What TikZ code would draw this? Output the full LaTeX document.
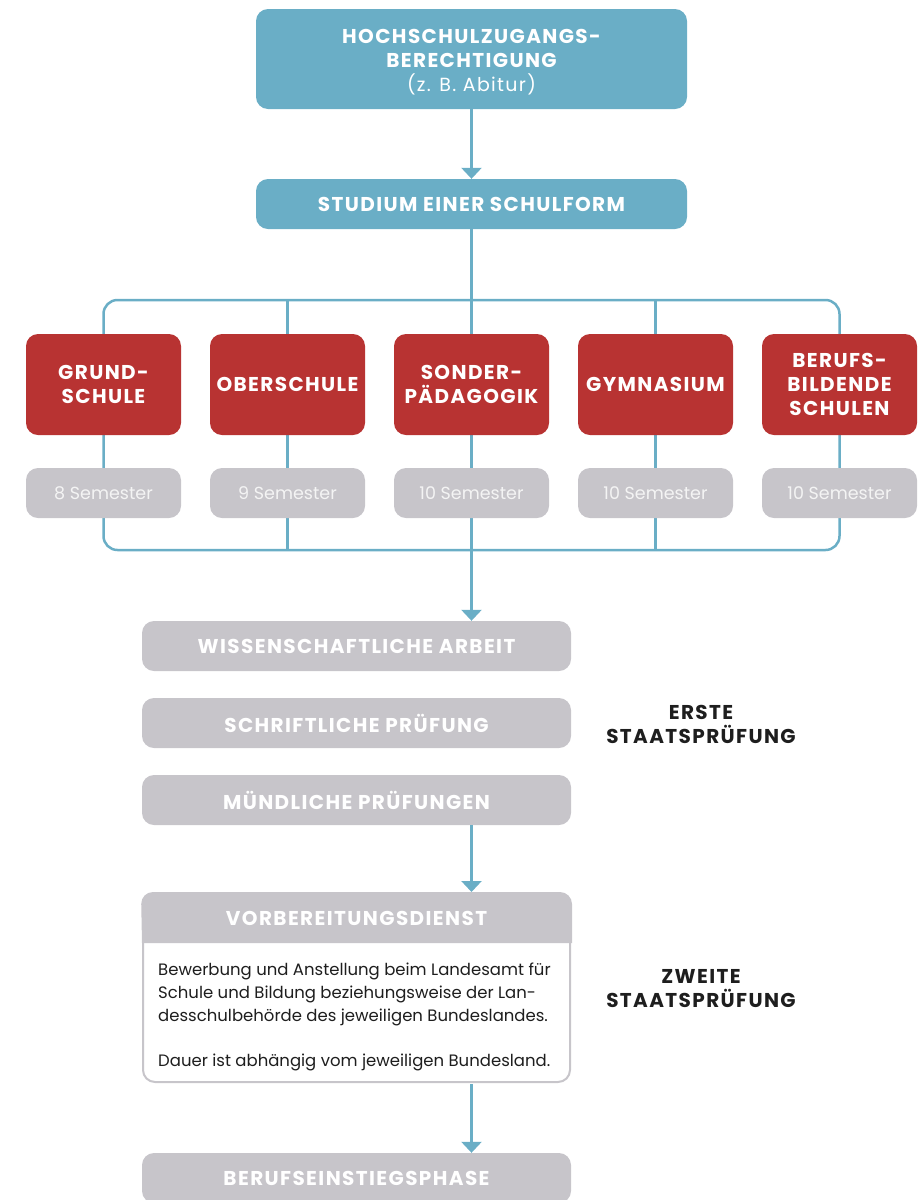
\documentclass[tikz,border=0pt]{standalone}
\usepackage{fontspec}
\setmainfont{Poppins}
\newfontfamily\headfont{Poppins}[LetterSpace=7]
\usetikzlibrary{arrows.meta,calc,backgrounds}
\definecolor{cblue}{HTML}{6AAEC6}
\definecolor{cred}{HTML}{B83332}
\definecolor{cgray}{HTML}{C7C5CA}
\definecolor{ctext}{HTML}{1E1E1E}
\definecolor{csem}{HTML}{F4F4F4}
\tikzset{
  box/.style={rounded corners=12pt, inner sep=0pt, align=center, text=white,
    font=\headfont\fontsize{20}{24}\selectfont\bfseries},
  bluebox/.style={box, fill=cblue, minimum width=431pt},
  redbox/.style={box, fill=cred, minimum width=155pt, minimum height=101pt},
  sembox/.style={box, fill=cgray, minimum width=155pt, minimum height=50pt,
    text=csem, font=\fontsize{17.5}{20}\selectfont},
  graybox/.style={box, fill=cgray, minimum width=429pt, minimum height=50pt},
  conn/.style={cblue, line width=2.5pt},
  arr/.style={conn, -{Triangle[width=20pt,length=11pt]}},
  side/.style={align=center, text=ctext, font=\headfont\fontsize{20}{24}\selectfont\bfseries},
}
\begin{document}
\begin{tikzpicture}[x=1pt,y=-1pt]
\useasboundingbox (0,0) rectangle (924,1200);
\clip (0,0) rectangle (924,1200);

% top boxes
\node[bluebox, minimum height=100pt] (top) at (471.5,59) {};
\node[box] (toptext) at (471.5,62.5)
  {HOCHSCHULZUGANGS-\\BERECHTIGUNG\\{\mdseries\fontsize{19}{24}\selectfont (z. B. Abitur)}};
\node[bluebox, minimum height=50pt] (stud) at (471.5,204) {STUDIUM EINER SCHULFORM};

% school types
\foreach \i/\t/\s in {1/{GRUND-\\SCHULE}/8, 2/{OBERSCHULE}/9, 3/{SONDER-\\PÄDAGOGIK}/10,
                      4/{GYMNASIUM}/10, 5/{BERUFS-\\BILDENDE\\SCHULEN}/10}{
  \node[redbox] (r\i) at ({103.5+184*(\i-1)},384.5) {\t};
  \node[sembox] (s\i) at ({103.5+184*(\i-1)},493) {\s\ Semester};
}

\coordinate (hubtop) at (471.5,300);
\coordinate (hubbot) at (471.5,550);

\begin{scope}[on background layer]
  \draw[conn, rounded corners=14pt] (r1 |- hubtop) rectangle (r5 |- hubbot);
  \foreach \i in {2,3,4}{
    \draw[conn] (r\i |- hubtop) -- (r\i |- hubbot);
  }
  \draw[conn] (stud.south) -- (hubtop);
\end{scope}
\draw[arr] (top.south) -- (stud.north);

% first exam
\node[graybox] (wiss) at (356.5,646) {WISSENSCHAFTLICHE ARBEIT};
\node[graybox] (schr) at (356.5,723) {SCHRIFTLICHE PRÜFUNG};
\node[graybox] (mund) at (356.5,800) {MÜNDLICHE PRÜFUNGEN};
\draw[arr] (hubbot) -- (hubbot |- wiss.north);

\node[side] (erste) at (701,724) {ERSTE\\STAATSPRÜFUNG};

% Vorbereitungsdienst
\node[draw=cgray, line width=2pt, fill=white, rounded corners=12pt,
      minimum width=427pt, minimum height=188pt, inner sep=0pt] (vb) at (356.5,988) {};
\fill[cgray] ([yshift=-50pt]vb.north west) [rounded corners=12pt] -- ([xshift=-1pt,yshift=1pt]vb.north west)
  -- ([xshift=1pt,yshift=1pt]vb.north east) [sharp corners] -- ([xshift=1pt,yshift=-50pt]vb.north east) -- cycle;
\node[box] (vbh) at (356.5,918) {VORBEREITUNGSDIENST};
\node[anchor=north west, align=left, inner sep=0pt, text=ctext,
      font=\fontsize{16.5}{23}\selectfont] (vbt) at (158,963)
  {Bewerbung und Anstellung beim Landesamt für\\
   Schule und Bildung beziehungsweise der Lan-\\
   desschulbehörde des jeweiligen Bundeslandes.\\[22pt]
   Dauer ist abhängig vom jeweiligen Bundesland.};
\draw[arr] (hubbot |- mund.south) -- ([yshift=1pt]hubbot |- vb.north);

\node[side] (zweite) at (701,989) {ZWEITE\\STAATSPRÜFUNG};

% final
\node[graybox] (ber) at (356.5,1178) {BERUFSEINSTIEGSPHASE};
\draw[arr] ([yshift=-1pt]hubbot |- vb.south) -- (hubbot |- ber.north);
\end{tikzpicture}
\end{document}
